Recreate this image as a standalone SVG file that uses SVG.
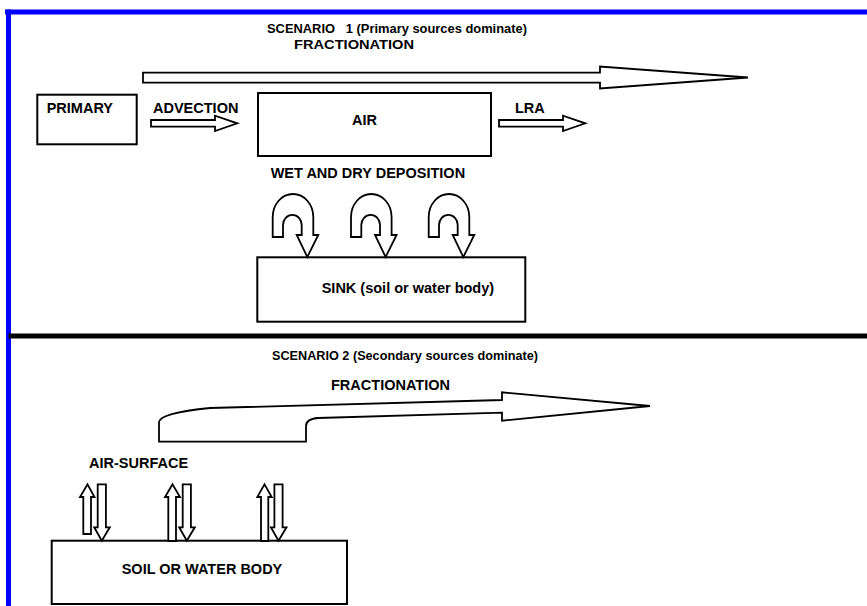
<svg xmlns="http://www.w3.org/2000/svg" xmlns:xlink="http://www.w3.org/1999/xlink" width="867" height="606" viewBox="0 0 867 606">
<style>
.box{fill:#fff;stroke:#000;stroke-width:2}
.arr{fill:#fff;stroke:#000;stroke-width:1.8;stroke-linejoin:miter}
.t{font-family:"Liberation Sans",Arial,sans-serif;font-weight:bold;font-size:14.5px;fill:#000}
.c{font-family:"Liberation Sans",Arial,sans-serif;font-weight:bold;font-size:13px;fill:#000}
</style>
<defs>
<path id="uarr" d="M272.7 237 L272.7 217 A20.3 23 0 0 1 313.3 217 L313.3 235 L318.3 235 L307.3 257 L296.7 235 L301.7 235 L301.7 225 A9.3 10 0 0 0 283 225 L283 237 Z"/>
<path id="up" d="M83.3 534 L83.3 497 L80 497 L87.5 484.3 L94.5 497 L91 497 L91 534 Z"/>
<path id="dn" d="M97.7 484.3 L105.9 484.3 L105.9 527.3 L109.8 527.3 L101.8 540.7 L94.2 527.3 L97.7 527.3 Z"/>
</defs>
<rect width="867" height="606" fill="#fff"/>
<g id="frame">
<line x1="5" y1="12" x2="867" y2="12" stroke="#0000ff" stroke-width="5"/>
<line x1="8.5" y1="9.5" x2="8.5" y2="606" stroke="#0000ff" stroke-width="5"/>
<line x1="8.5" y1="336" x2="867" y2="336" stroke="#000" stroke-width="5"/>
</g>
<g id="titles">
<text class="c" x="267" y="33" textLength="260" lengthAdjust="spacingAndGlyphs" xml:space="preserve">SCENARIO   1 (Primary sources dominate)</text>
<text class="c" x="294" y="48.5" textLength="120" lengthAdjust="spacingAndGlyphs">FRACTIONATION</text>
<text class="c" x="272" y="360" textLength="266" lengthAdjust="spacingAndGlyphs">SCENARIO 2 (Secondary sources dominate)</text>
</g>
<g id="primary">
<rect class="box" x="37.3" y="94.7" width="99.4" height="49.6"/>
<text class="t" x="46.7" y="113" font-size="12.5">PRIMARY</text>
</g>
<g id="air">
<rect class="box" x="258" y="93" width="233" height="63"/>
<text class="t" x="352" y="125">AIR</text>
</g>
<g id="sink">
<rect class="box" x="257.3" y="257.3" width="268" height="64.4"/>
<text class="t" x="321.7" y="293">SINK (soil or water body)</text>
</g>
<g id="soil">
<rect class="box" x="51.7" y="540.7" width="295.3" height="63.3"/>
<text class="t" x="121.7" y="574">SOIL OR WATER BODY</text>
</g>
<g id="connectors">
<path class="arr" d="M143 72.7 L600 72.7 L600 66.5 L748 77.5 L600 88.5 L600 82.7 L143 82.7 Z"/>
<path class="arr" d="M151 120 L215 120 L215 115.7 L237.3 123.3 L215 131 L215 126.7 L151 126.7 Z"/>
<path class="arr" d="M499 120 L563 120 L563 115.7 L585.3 123.3 L563 131 L563 126.7 L499 126.7 Z"/>
<use class="arr" xlink:href="#uarr"/>
<use class="arr" xlink:href="#uarr" x="78.3"/>
<use class="arr" xlink:href="#uarr" x="156"/>
<path class="arr" d="M159 441.7 L159 422 Q160 413 210 408 L502 400 L502 392.3 L650 406 L502 420.7 L502 412.7 L318 418 Q306 419 306 426 L306 441.7 Z"/>
<use class="arr" xlink:href="#up"/>
<use class="arr" xlink:href="#dn"/>
<path class="arr" d="M168.3 541 L168.3 497 L165 497 L172.5 484.3 L180 497 L176 497 L176 541 Z"/>
<use class="arr" xlink:href="#dn" x="85"/>
<path class="arr" d="M261 541 L261 497 L257.3 497 L264.5 484.3 L271.7 497 L268.3 497 L268.3 541 Z"/>
<use class="arr" xlink:href="#dn" x="176.7"/>
</g>
<g id="labels">
<text class="t" x="153" y="113">ADVECTION</text>
<text class="t" x="515" y="113">LRA</text>
<text class="t" x="270.7" y="178">WET AND DRY DEPOSITION</text>
<text class="t" x="331" y="390">FRACTIONATION</text>
<text class="t" x="89" y="467.7">AIR-SURFACE</text>
</g>
</svg>
